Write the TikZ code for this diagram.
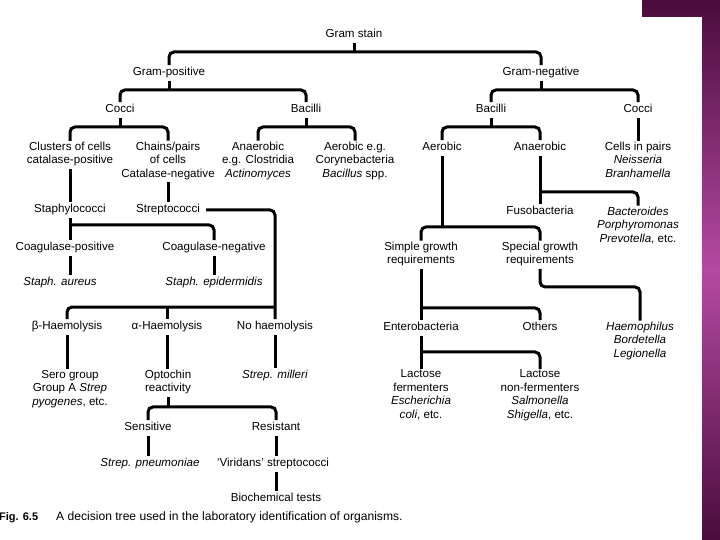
\documentclass[tikz,border=0pt]{standalone}
\usepackage{fontspec}
\setmainfont{Liberation Sans}
\usetikzlibrary{calc}
\definecolor{slidedark}{RGB}{74,12,60}
\definecolor{slidemid}{RGB}{180,74,162}

\begin{document}
\begin{tikzpicture}[x=1pt, y=-1pt,
  tree/.style={line width=3pt, rounded corners=5pt},
  every node/.style={font=\fontsize{11.6}{13.5}\selectfont, align=center, inner sep=1pt,
    execute at begin node=\strut, execute at end node=\strut}]
% slide background
\shade[top color=slidedark, bottom color=slidedark, middle color=slidemid] (642,0) rectangle (720,540);
\fill[white] (0,17) rectangle (702,540);
\useasboundingbox (0,0) rectangle (720,540);

\node[name=gram_stain] at (354,35) {Gram stain};
\node[name=gram_pos] at (169,73) {Gram-positive};
\node[name=gram_neg] at (541,73) {Gram-negative};
\node[name=pos_cocci] at (120,110) {Cocci};
\node[name=pos_bacilli] at (306,110) {Bacilli};
\node[name=neg_bacilli] at (491,110) {Bacilli};
\node[name=neg_cocci] at (638,110) {Cocci};
\node[name=clusters] at (70,155) {Clusters of cells\\catalase-positive};
\node[name=chains] at (168,161.5) {Chains/pairs\\of cells\\Catalase-negative};
\node[name=anaer_pos] at (258,161.5) {Anaerobic\\e.g. Clostridia\\\textit{Actinomyces}};
\node[name=aer_pos] at (355,161.5) {Aerobic e.g.\\Corynebacteria\\\textit{Bacillus} spp.};
\node[name=aer_neg] at (442,148) {Aerobic};
\node[name=anaer_neg] at (540,148) {Anaerobic};
\node[name=pairs] at (638,161.5) {Cells in pairs\\\textit{Neisseria}\\\textit{Branhamella}};
\node[name=staph] at (70,210) {Staphylococci};
\node[name=strep] at (168,210) {Streptococci};
\node[name=coag_pos] at (65,248) {Coagulase-positive};
\node[name=coag_neg] at (214,248) {Coagulase-negative};
\node[name=aureus] at (60,283) {\textit{Staph. aureus}};
\node[name=epidermidis] at (214,283) {\textit{Staph. epidermidis}};
\node[name=haem_beta] at (67,327) {β-Haemolysis};
\node[name=haem_alpha] at (167,327) {α-Haemolysis};
\node[name=haem_none] at (275,327) {No haemolysis};
\node[name=sero] at (70,389.5) {Sero group\\Group A \textit{Strep}\\\textit{pyogenes}, etc.};
\node[name=optochin] at (168,382.75) {Optochin\\reactivity};
\node[name=milleri] at (275,376) {\textit{Strep. milleri}};
\node[name=sensitive] at (148,428) {Sensitive};
\node[name=resistant] at (276,428) {Resistant};
\node[name=pneumoniae] at (150,464) {\textit{Strep. pneumoniae}};
\node[name=viridans] at (273,464) {`Viridans' streptococci};
\node[name=biochem] at (276,499) {Biochemical tests};
\node[name=fuso] at (540,212) {Fusobacteria};
\node[name=bacteroides] at (638,226.5) {\textit{Bacteroides}\\\textit{Porphyromonas}\\\textit{Prevotella}, etc.};
\node[name=simple] at (421,254.75) {Simple growth\\requirements};
\node[name=special] at (540,254.75) {Special growth\\requirements};
\node[name=entero] at (421,328) {Enterobacteria};
\node[name=others] at (540,328) {Others};
\node[name=haemophilus] at (640,341.5) {\textit{Haemophilus}\\\textit{Bordetella}\\\textit{Legionella}};
\node[name=lac_f] at (421,396.25) {Lactose\\fermenters\\\textit{Escherichia}\\\textit{coli}, etc.};
\node[name=lac_nf] at (540,396.25) {Lactose\\non-fermenters\\\textit{Salmonella}\\\textit{Shigella}, etc.};
\node[name=fig_num, anchor=west, font=\bfseries\fontsize{11}{13}\selectfont] at (-2,518) {Fig. 6.5};
\node[name=caption, anchor=west, font=\fontsize{12.1}{13.5}\selectfont] at (55,518) {A decision tree used in the laboratory identification of organisms.};

% gram stain
\draw[tree] (gram_pos.north) |- ([yshift=-9pt]gram_stain.south) -| (gram_neg.north);
\draw[tree] (gram_stain.south) -- ++(0,9);
\draw[tree] (pos_cocci.north) |- ([yshift=-9pt]gram_pos.south) -| (pos_bacilli.north);
\draw[tree] (gram_pos.south) -- ++(0,9);
\draw[tree] (neg_bacilli.north) |- ([yshift=-9pt]gram_neg.south) -| (neg_cocci.north);
\draw[tree] (gram_neg.south) -- ++(0,9);
% gram-positive side
\draw[tree] (clusters.north) |- ([yshift=-9pt]pos_cocci.south) -| (chains.north);
\draw[tree] (pos_cocci.south) -- ++(0,9);
\draw[tree] (anaer_pos.north) |- ([yshift=-9pt]pos_bacilli.south) -| (aer_pos.north);
\draw[tree] (pos_bacilli.south) -- ++(0,9);
\draw[tree] (clusters.south) -- (staph.north);
\draw[tree] (chains.south) -- (strep.north);
\draw[tree] (staph.south) -- (staph.south |- coag_pos.north);
\draw[tree] ([yshift=-7pt]staph.south) -| (coag_neg.north);
\draw[tree] (staph.south |- coag_pos.south) -- (staph.south |- aureus.north);
\draw[tree] (coag_neg.south) -- (epidermidis.north);
\draw[tree] ([xshift=5pt]strep.east) -| (haem_none.north);
\draw[tree] (haem_beta.north) |- ([yshift=12pt]haem_none.north);
\draw[tree] (haem_alpha.north) -- ++(0,-12);
\draw[tree] (haem_beta.south) -- (haem_beta.south |- sero.north);
\draw[tree] (haem_alpha.south) -- (haem_alpha.south |- optochin.north);
\draw[tree] (haem_none.south) -- (milleri.north);
\draw[tree] (sensitive.north) |- ([yshift=-10pt]optochin.south) -| (resistant.north);
\draw[tree] (optochin.south) -- ++(0,10);
\draw[tree] (sensitive.south) -- (sensitive.south |- pneumoniae.north);
\draw[tree] (resistant.south) -- (resistant.south |- viridans.north);
\draw[tree] (resistant.south |- viridans.south) -- (resistant.south |- biochem.north);
% gram-negative side
\draw[tree] (aer_neg.north) |- ([yshift=-9pt]neg_bacilli.south) -| (anaer_neg.north);
\draw[tree] (neg_bacilli.south) -- ++(0,9);
\draw[tree] (neg_cocci.south) -- (pairs.north);
\draw[tree] (anaer_neg.south) -- (fuso.north);
\draw[tree] ([yshift=-36pt]anaer_neg.south) -| (bacteroides.north);
\draw[tree] (simple.north) |- ([yshift=-71pt]aer_neg.south) -| (special.north);
\draw[tree] (aer_neg.south) -- ++(0,71);
\draw[tree] (special.south) -- ++(0,18) -| (haemophilus.north);
\draw[tree] (simple.south) -- (entero.north);
\draw[tree] ([yshift=-39pt]simple.south) -| (others.north);
\draw[tree] (entero.south) -- (lac_f.north);
\draw[tree] ([yshift=-16pt]entero.south) -| (lac_nf.north);
\end{tikzpicture}
\end{document}
